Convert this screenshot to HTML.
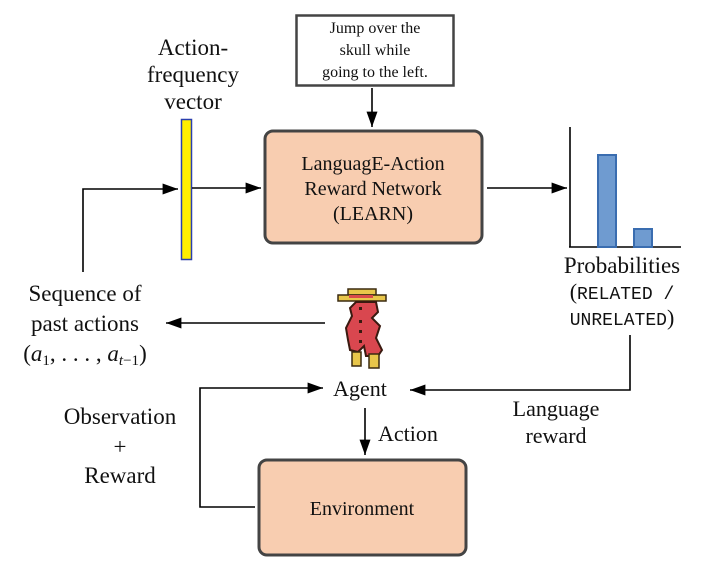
<!DOCTYPE html>
<html><head><meta charset="utf-8"><style>
html,body{margin:0;padding:0;background:#fff;}
svg{display:block;}
text{font-family:"Liberation Serif","DejaVu Serif",serif;fill:#111;}
.m{font-family:"Liberation Mono","DejaVu Sans Mono",monospace;}
</style></head><body>
<svg width="728" height="587" viewBox="0 0 728 587" xmlns="http://www.w3.org/2000/svg" font-family="'Liberation Serif','DejaVu Serif',serif">
<defs>
<marker id="b" viewBox="0 0 14 10" refX="14" refY="5" markerWidth="16" markerHeight="11" markerUnits="userSpaceOnUse" orient="auto"><path d="M0,0 L14,5 L0,10 z" fill="#000"/></marker>
</defs>
<rect x="296.5" y="15.5" width="157" height="70" fill="#fff" stroke="#444" stroke-width="2.5"/>
<text x="375" y="33" font-size="16" text-anchor="middle">Jump over the</text>
<text x="375" y="55" font-size="16" text-anchor="middle">skull while</text>
<text x="375" y="77" font-size="16" text-anchor="middle">going to the left.</text>
<line x1="372" y1="88" x2="372" y2="127" stroke="#000" stroke-width="1.6" marker-end="url(#b)"/>
<rect x="265" y="131" width="217" height="112" rx="8" fill="#f8cdb0" stroke="#444" stroke-width="3"/>
<text x="373" y="170" font-size="20" text-anchor="middle">LanguagE-Action</text>
<text x="373" y="195" font-size="20" text-anchor="middle">Reward Network</text>
<text x="373" y="220" font-size="20" text-anchor="middle">(LEARN)</text>
<text x="193" y="55" font-size="23" text-anchor="middle">Action-</text>
<text x="193" y="82" font-size="23" text-anchor="middle">frequency</text>
<text x="193" y="109" font-size="23" text-anchor="middle">vector</text>
<polyline points="83,272 83,189 178,189" fill="none" stroke="#000" stroke-width="1.6" marker-end="url(#b)"/>
<rect x="181.5" y="119.5" width="10" height="140" fill="#ffee00" stroke="#2a3fae" stroke-width="1.5"/>
<line x1="192" y1="188" x2="261" y2="188" stroke="#000" stroke-width="1.6" marker-end="url(#b)"/>
<line x1="487" y1="188" x2="567" y2="188" stroke="#000" stroke-width="1.6" marker-end="url(#b)"/>
<line x1="570" y1="127" x2="570" y2="247" stroke="#000" stroke-width="1.6"/>
<line x1="569" y1="247" x2="681" y2="247" stroke="#000" stroke-width="1.6"/>
<rect x="598" y="155" width="18" height="92" fill="#6f9bd0" stroke="#3a6db0" stroke-width="2"/>
<rect x="634" y="229" width="18" height="18" fill="#6f9bd0" stroke="#3a6db0" stroke-width="2"/>
<text x="622" y="273" font-size="23" text-anchor="middle">Probabilities</text>
<text x="622" y="299" font-size="18" text-anchor="middle"><tspan font-size="22">(</tspan><tspan class="m">RELATED /</tspan></text>
<text x="622" y="325" font-size="18" text-anchor="middle"><tspan class="m">UNRELATED</tspan><tspan font-size="22">)</tspan></text>
<polyline points="630,335 630,390 410,390" fill="none" stroke="#000" stroke-width="1.6" marker-end="url(#b)"/>
<text x="556" y="416" font-size="22" text-anchor="middle">Language</text>
<text x="556" y="443" font-size="22" text-anchor="middle">reward</text>
<g>
<rect x="348" y="289" width="28" height="6" fill="#e8c64a" stroke="#3a2a10" stroke-width="1.5"/>
<rect x="338" y="295" width="48" height="6" fill="#e8c64a" stroke="#3a2a10" stroke-width="1.5"/>
<rect x="349" y="295" width="24" height="3" fill="#d94a4a"/>
<path d="M356,302 L376,302 L378,312 L372,318 L380,326 L376,338 L382,350 L378,356 L366,356 L364,346 L358,352 L350,350 L348,340 L346,328 L352,316 L350,308 Z" fill="#d9474f" stroke="#3a1a10" stroke-width="2"/>
<rect x="352" y="352" width="9" height="14" fill="#e8c64a" stroke="#3a2a10" stroke-width="1.5"/>
<rect x="369" y="354" width="10" height="14" fill="#e8c64a" stroke="#3a2a10" stroke-width="1.5"/>
<rect x="359" y="307" width="3" height="3" fill="#3a1a10"/>
<rect x="359" y="320" width="3" height="3" fill="#3a1a10"/>
<rect x="359" y="330" width="3" height="3" fill="#3a1a10"/>
<rect x="359" y="340" width="3" height="3" fill="#3a1a10"/>
</g>
<line x1="325" y1="323" x2="166" y2="323" stroke="#000" stroke-width="1.6" marker-end="url(#b)"/>
<text x="85" y="301" font-size="23" text-anchor="middle">Sequence of</text>
<text x="85" y="331" font-size="23" text-anchor="middle">past actions</text>
<text x="85" y="361" font-size="23" text-anchor="middle">(<tspan font-style="italic">a</tspan><tspan font-size="15" dy="4">1</tspan><tspan dy="-4">, . . . , </tspan><tspan font-style="italic">a</tspan><tspan font-size="15" dy="4" font-style="italic">t</tspan><tspan font-size="15">−1</tspan><tspan dy="-4">)</tspan></text>
<text x="360" y="396" font-size="22" text-anchor="middle">Agent</text>
<line x1="365" y1="408" x2="365" y2="455" stroke="#000" stroke-width="1.6" marker-end="url(#b)"/>
<text x="378" y="441" font-size="22">Action</text>
<rect x="259" y="460" width="207" height="95" rx="8" fill="#f8cdb0" stroke="#444" stroke-width="3"/>
<text x="362" y="515" font-size="20" text-anchor="middle">Environment</text>
<polyline points="255,507 200,507 200,388 323,388" fill="none" stroke="#000" stroke-width="1.6" marker-end="url(#b)"/>
<text x="120" y="424" font-size="23" text-anchor="middle">Observation</text>
<text x="120" y="454" font-size="23" text-anchor="middle">+</text>
<text x="120" y="483" font-size="23" text-anchor="middle">Reward</text>
</svg>
</body></html>
